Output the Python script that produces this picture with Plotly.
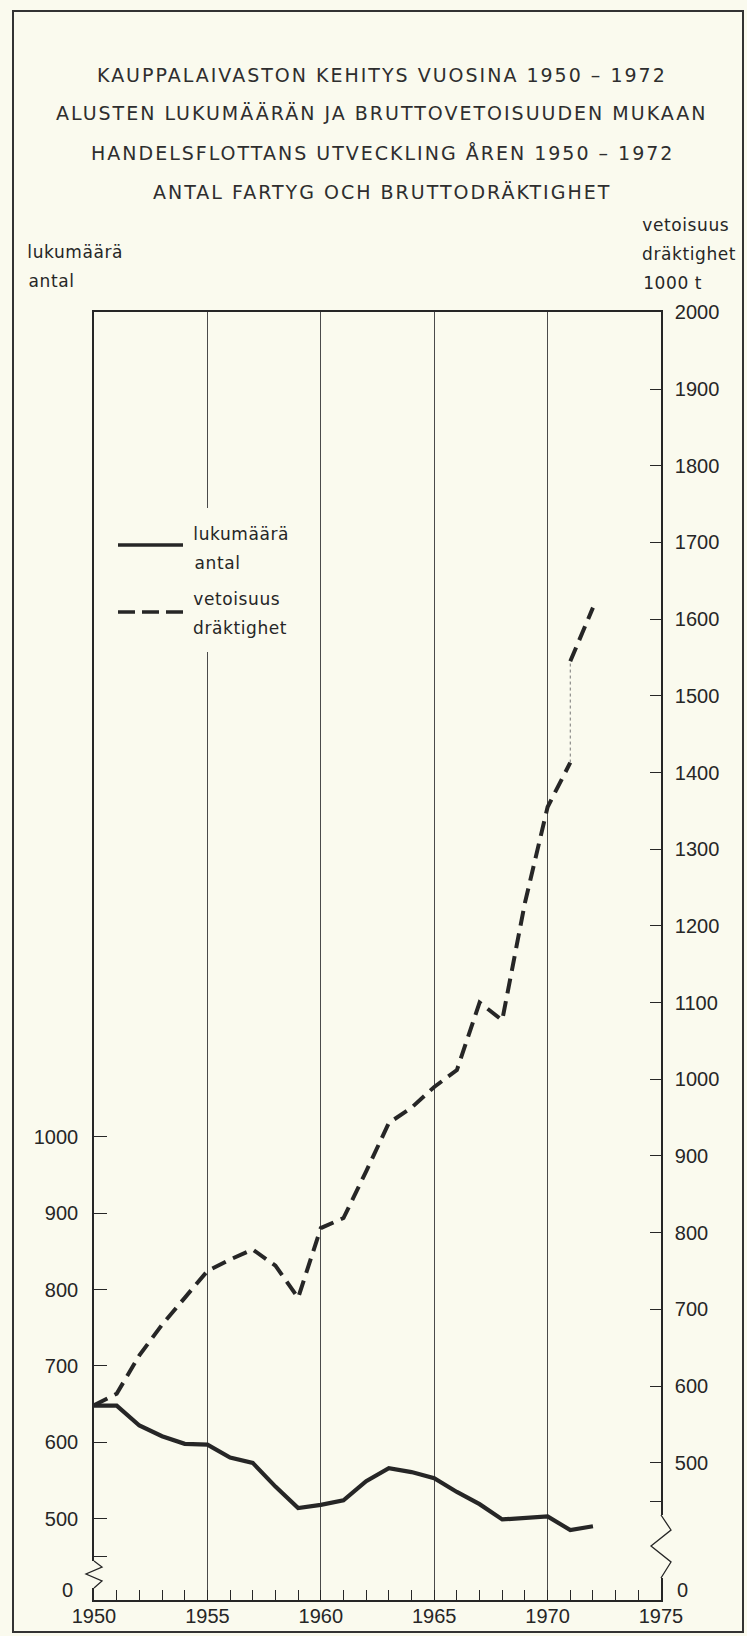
import plotly.graph_objects as go

# ---------------- data ----------------
years = list(range(1950, 1973))
ships = [648, 648, 622, 608, 598, 597, 580, 573, 542, 514,
         518, 524, 549, 566, 561, 553, 535, 519, 499, 501,
         503, 485, 490]

tonnage_years_old = list(range(1950, 1972))
tonnage_old = [575, 590, 640, 680, 715, 750, 765, 778, 757, 715,
               806, 819, 880, 943, 963, 990, 1012, 1100, 1077, 1230,
               1355, 1413]
tonnage_years_new = [1971, 1972]
tonnage_new = [1545, 1615]

left_tickvals = [450, 500, 600, 700, 800, 900, 1000]
left_ticktext = ["", "500", "600", "700", "800", "900", "1000"]
right_tickvals = [450, 500, 600, 700, 800, 900, 1000, 1100, 1200,
                  1300, 1400, 1500, 1600, 1700, 1800, 1900, 2000]
right_ticktext = ["", "500", "600", "700", "800", "900", "1000", "1100",
                  "1200", "1300", "1400", "1500", "1600", "1700", "1800",
                  "1900", "2000"]
broken_axis_zero = "0"
x_tickvals = [1950, 1955, 1960, 1965, 1970, 1975]

title_lines = [
    "KAUPPALAIVASTON KEHITYS VUOSINA 1950 – 1972",
    "ALUSTEN LUKUMÄÄRÄN JA BRUTTOVETOISUUDEN MUKAAN",
    "HANDELSFLOTTANS UTVECKLING ÅREN 1950 – 1972",
    "ANTAL FARTYG OCH BRUTTODRÄKTIGHET",
]
left_title = ["lukumäärä", "antal"]
right_title = ["vetoisuus", "dräktighet", "1000 t"]
legend_solid = ["lukumäärä", "antal"]
legend_dash = ["vetoisuus", "dräktighet"]

# ---------------- layout geometry (pixels) ----------------
W, H = 747, 1636
L, R, T, B = 94, 86, 312, 36
PW = W - L - R
PH = H - T - B

def px(x):
    return (x - L) / PW

def py(y):
    return (H - B - y) / PH

INK = "#262626"
PAPER = "#FAFAEE"
TXT_FONT = "DejaVu Sans"
NUM_FONT = "Liberation Sans"

fig = go.Figure()

fig.add_trace(go.Scatter(
    x=years, y=ships, mode="lines", yaxis="y",
    line=dict(color=INK, width=4.2), name="lukumäärä / antal",
    showlegend=False))

fig.add_trace(go.Scatter(
    x=tonnage_years_old, y=tonnage_old, mode="lines", yaxis="y2",
    line=dict(color=INK, width=4, dash="15px,8px"),
    name="vetoisuus / dräktighet", showlegend=False))

fig.add_trace(go.Scatter(
    x=tonnage_years_new, y=tonnage_new, mode="lines", yaxis="y2",
    line=dict(color=INK, width=4, dash="15px,8px"),
    name="vetoisuus / dräktighet", showlegend=False))

# thin dotted connector where the series changes basis (1971)
fig.add_trace(go.Scatter(
    x=[tonnage_years_old[-1], tonnage_years_new[0]],
    y=[tonnage_old[-1], tonnage_new[0]], mode="lines", yaxis="y2",
    line=dict(color="#777777", width=1, dash="dot"), showlegend=False))

shapes = []
# outer frame
shapes.append(dict(type="rect", xref="paper", yref="paper",
                   x0=px(13), x1=px(743), y0=py(11), y1=py(1632),
                   line=dict(color="#333333", width=2), layer="below"))
# legend background (interrupts the 1955 grid line)
shapes.append(dict(type="rect", xref="paper", yref="paper",
                   x0=px(108), x1=px(312), y0=py(652), y1=py(508),
                   fillcolor=PAPER, line=dict(width=0), layer="above"))
# legend samples
shapes.append(dict(type="line", xref="paper", yref="paper",
                   x0=px(118), x1=px(183), y0=py(545), y1=py(545),
                   line=dict(color=INK, width=3.5), layer="above"))
shapes.append(dict(type="line", xref="paper", yref="paper",
                   x0=px(118), x1=px(183), y0=py(612), y1=py(612),
                   line=dict(color=INK, width=3.5, dash="17px,7px"),
                   layer="above"))

# axis break symbols
def zig(points):
    return "M " + " L ".join(f"{px(a):.5f},{py(b):.5f}" for a, b in points)

XL = L
XR = W - R
shapes.append(dict(type="rect", xref="paper", yref="paper",
                   x0=px(XL - 4), x1=px(XL + 4), y0=py(1588), y1=py(1561),
                   fillcolor=PAPER, line=dict(width=0), layer="above"))
shapes.append(dict(type="path", xref="paper", yref="paper",
                   path=zig([(XL, 1561), (XL + 8, 1567), (XL - 8, 1574),
                             (XL + 8, 1581), (XL, 1588)]),
                   line=dict(color=INK, width=1.3), layer="above"))
shapes.append(dict(type="rect", xref="paper", yref="paper",
                   x0=px(XR - 4), x1=px(XR + 4), y0=py(1578), y1=py(1515),
                   fillcolor=PAPER, line=dict(width=0), layer="above"))
shapes.append(dict(type="path", xref="paper", yref="paper",
                   path=zig([(XR, 1515), (XR + 10, 1530), (XR - 10, 1546),
                             (XR + 10, 1562), (XR, 1578)]),
                   line=dict(color=INK, width=1.3), layer="above"))

annotations = []
for txt, yy in zip(title_lines, [75, 113, 153, 192]):
    annotations.append(dict(text=txt, xref="paper", yref="paper",
                            x=px(382), y=py(yy), xanchor="center", yanchor="middle",
                            showarrow=False,
                            font=dict(family=TXT_FONT, size=19, color="#2e2e2e")))
for txt, yy in zip(left_title, [252, 281]):
    annotations.append(dict(text=txt, xref="paper", yref="paper",
                            x=px(28), y=py(yy), xanchor="left", yanchor="middle",
                            showarrow=False,
                            font=dict(family=TXT_FONT, size=17, color=INK)))
for txt, yy in zip(right_title, [225, 254, 283]):
    annotations.append(dict(text=txt, xref="paper", yref="paper",
                            x=px(643), y=py(yy), xanchor="left", yanchor="middle",
                            showarrow=False,
                            font=dict(family=TXT_FONT, size=17, color=INK)))
for txt, yy in zip(legend_solid + legend_dash, [534, 563, 599, 628]):
    annotations.append(dict(text=txt, xref="paper", yref="paper",
                            x=px(194), y=py(yy), xanchor="left", yanchor="middle",
                            showarrow=False,
                            font=dict(family=TXT_FONT, size=17, color=INK)))
# "0" at the foot of each broken value axis
annotations.append(dict(text=broken_axis_zero, xref="paper", yref="paper",
                        x=px(75), y=py(1590), xanchor="right", yanchor="middle",
                        showarrow=False,
                        font=dict(family=NUM_FONT, size=20, color=INK)))
annotations.append(dict(text=broken_axis_zero, xref="paper", yref="paper",
                        x=px(675), y=py(1590), xanchor="left", yanchor="middle",
                        showarrow=False,
                        font=dict(family=NUM_FONT, size=20, color=INK)))

fig.update_layout(
    width=W, height=H,
    margin=dict(l=L, r=R, t=T, b=B, pad=0, autoexpand=False),
    paper_bgcolor=PAPER, plot_bgcolor=PAPER,
    showlegend=False,
    shapes=shapes, annotations=annotations,
    xaxis=dict(range=[1950, 1975], tickvals=x_tickvals,
               ticks="inside", ticklen=10, tickcolor=INK, tickwidth=1.2,
               minor=dict(dtick=1, ticks="inside", ticklen=10,
                          tickcolor=INK, tickwidth=1.2, showgrid=False),
               showgrid=True, gridcolor="#4a4a4a", gridwidth=1.2,
               showline=True, linecolor=INK, linewidth=1.6, mirror=True,
               zeroline=False, ticklabelstandoff=-3, automargin=False,
               tickfont=dict(family=NUM_FONT, size=20, color=INK),
               fixedrange=True),
    yaxis=dict(range=[393.5, 2080], tickvals=left_tickvals,
               ticktext=left_ticktext, ticks="inside", ticklen=13,
               tickcolor=INK, tickwidth=1.2, ticklabelstandoff=10,
               showgrid=False, zeroline=False, automargin=False,
               showline=True, linecolor=INK, linewidth=1.6,
               tickfont=dict(family=NUM_FONT, size=20, color=INK)),
    yaxis2=dict(range=[321, 2000.5], tickvals=right_tickvals,
                ticktext=right_ticktext, overlaying="y", side="right",
                ticks="inside", ticklen=11, tickcolor=INK, tickwidth=1.2,
                ticklabelstandoff=8, automargin=False,
                showgrid=False, zeroline=False,
                showline=True, linecolor=INK, linewidth=1.6,
                tickfont=dict(family=NUM_FONT, size=20, color=INK)),
)

post_js = """
document.body.style.margin='0';
function spaceText(){
  var els = document.querySelectorAll('.annotation-text');
  els.forEach(function(el, i){
    if (i < 4) { el.style.letterSpacing = '2px'; }
    else if (i < 13) { el.style.letterSpacing = '0.6px'; }
  });
}
spaceText();
var gd = document.getElementById('{plot_id}');
if (gd && gd.on) { gd.on('plotly_afterplot', spaceText); }
setTimeout(spaceText, 50);
"""

fig.write_html("out.html", post_script=post_js,
               config={"displayModeBar": False})
